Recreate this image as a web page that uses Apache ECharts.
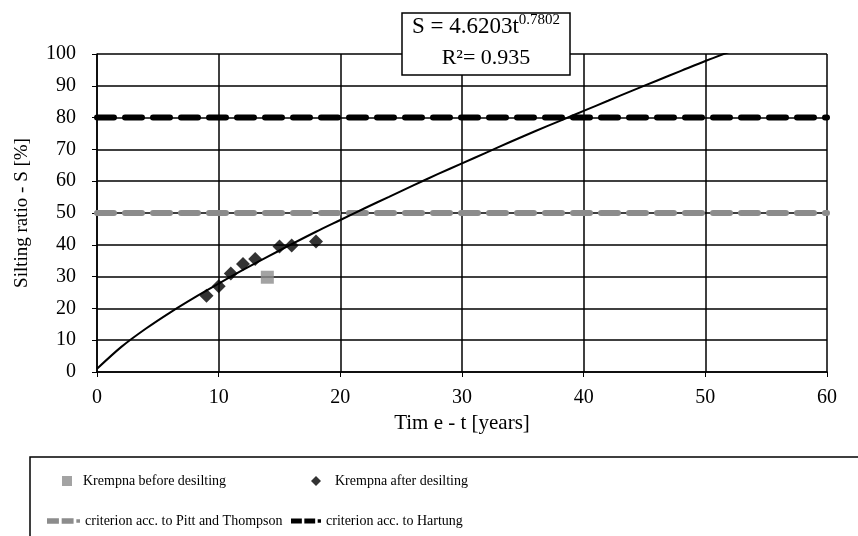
<!DOCTYPE html>
<html>
<head>
<meta charset="utf-8">
<script src="https://cdn.jsdelivr.net/npm/echarts@6/dist/echarts.min.js"></script>
<style>
  body { margin: 0; background: #fff; }
  #main { width: 858px; height: 536px; }
</style>
</head>
<body>
<div id="main"></div>
<script>
// Krempna after desilting (time in years, silting ratio %)
const afterT = [9, 10, 11, 12, 13, 15, 16, 18]
const afterS = [24, 27, 31, 34, 35.5, 39.5, 39.8, 41]
// Krempna before desilting
const beforeT = [14]
const beforeS = [29.8]
// trend curve
const trendT = [0, 2, 4, 6, 8, 10, 12, 14, 16, 18, 20, 22, 24, 26, 28, 30, 32, 34, 36, 38, 40, 42, 44, 46, 48, 50, 52]
const trendS = [1, 7.9, 13.6, 18.7, 23.4, 27.8, 32.1, 36.2, 40.2, 44.1, 47.8, 51.5, 55.1, 58.7, 62.2, 65.6, 69, 72.4, 75.7, 78.9, 82.1, 85.3, 88.5, 91.6, 94.7, 97.8, 100.7]
// criteria lines
const pittLevel = 50
const hartungLevel = 80
const xRange = [0, 60]

const serif = 'Liberation Serif'
const zip = (a, b) => a.map((v, i) => [v, b[i]])
// dash dash dot icon used in the legend for the criteria
const dashIcon = 'path://M0,0H13V6H0Z M16,0H29V6H16Z M32,1H36V5H32Z'

let myChart = echarts.init(document.getElementById('main'))
let legendText = { fontFamily: serif, fontSize: 14, color: '#000' }
let option = {
  animation: false,
  backgroundColor: '#fff',
  textStyle: { fontFamily: serif, color: '#000' },
  grid: { left: 97, right: 31, top: 54, bottom: 164 },
  xAxis: {
    type: 'value',
    min: 0, max: 60, interval: 10,
    name: 'Tim e - t [years]',
    nameLocation: 'middle',
    nameGap: 41,
    nameTextStyle: { fontFamily: serif, fontSize: 21, color: '#000', verticalAlign: 'top' },
    axisLine: { lineStyle: { color: '#000', width: 1.5 } },
    axisTick: { show: true, length: 5, lineStyle: { color: '#000' } },
    axisLabel: { fontFamily: serif, fontSize: 20, color: '#000', margin: 16 },
    splitLine: { show: true, lineStyle: { color: '#000', width: 1.5 } }
  },
  yAxis: {
    type: 'value',
    min: 0, max: 100, interval: 10,
    name: 'Silting ratio - S [%]',
    nameLocation: 'middle',
    nameGap: 65,
    nameTextStyle: { fontFamily: serif, fontSize: 19, color: '#000' },
    axisLine: { show: true, lineStyle: { color: '#000', width: 1.5 } },
    axisTick: { show: true, length: 5, lineStyle: { color: '#000' } },
    axisLabel: { fontFamily: serif, fontSize: 20, color: '#000', margin: 21 },
    splitLine: { show: true, lineStyle: { color: '#000', width: 1.5 } }
  },
  legend: [
    {
      data: ['Krempna before desilting'],
      left: 57, top: 469, itemWidth: 10, itemHeight: 10,
      textStyle: Object.assign({ padding: [0, 0, 0, 6] }, legendText)
    },
    {
      data: ['Krempna after desilting'],
      left: 306, top: 469, itemWidth: 10, itemHeight: 10,
      textStyle: Object.assign({ padding: [0, 0, 0, 9] }, legendText)
    },
    {
      data: [{ name: 'criterion acc. to Pitt and Thompson', icon: dashIcon }],
      left: 42, top: 509, itemWidth: 33, itemHeight: 6,
      textStyle: legendText
    },
    {
      data: [{ name: 'criterion acc. to Hartung', icon: dashIcon }],
      left: 286, top: 509, itemWidth: 30, itemHeight: 6,
      textStyle: legendText
    }
  ],
  series: [
    {
      name: 'criterion acc. to Pitt and Thompson',
      type: 'line',
      symbol: 'none',
      data: zip(xRange, [pittLevel, pittLevel]),
      lineStyle: { color: '#8c8c8c', width: 6, type: [17, 11], cap: 'round' },
      itemStyle: { color: '#8c8c8c' },
      z: 3
    },
    {
      name: 'criterion acc. to Hartung',
      type: 'line',
      symbol: 'none',
      data: zip(xRange, [hartungLevel, hartungLevel]),
      lineStyle: { color: '#000', width: 6, type: [17, 11], cap: 'round' },
      itemStyle: { color: '#000' },
      z: 3
    },
    {
      name: 'trend',
      type: 'line',
      smooth: 0.3,
      symbol: 'none',
      data: zip(trendT, trendS),
      lineStyle: { color: '#000', width: 2 },
      z: 4
    },
    {
      name: 'Krempna before desilting',
      type: 'scatter',
      symbol: 'rect',
      symbolSize: 13,
      data: zip(beforeT, beforeS),
      itemStyle: { color: '#8c8c8c' },
      z: 5
    },
    {
      name: 'Krempna after desilting',
      type: 'scatter',
      symbol: 'diamond',
      symbolSize: 14,
      data: zip(afterT, afterS),
      itemStyle: { color: '#000' },
      z: 5
    }
  ],
  graphic: [
    {
      type: 'rect',
      shape: { x: 30, y: 457, width: 840, height: 90 },
      style: { fill: 'none', stroke: '#000', lineWidth: 1.5 }
    },
    {
      type: 'rect',
      shape: { x: 402, y: 13, width: 168, height: 62 },
      style: { fill: '#fff', stroke: '#000', lineWidth: 1.5 },
      z: 10
    },
    {
      type: 'text',
      x: 486, y: 27,
      z: 11,
      style: {
        text: '{m|S = 4.6203t}{s|0.7802}',
        align: 'center',
        verticalAlign: 'middle',
        rich: {
          m: { fontSize: 23, fontFamily: serif, color: '#000' },
          s: { fontSize: 15, fontFamily: serif, color: '#000', padding: [0, 0, 14, 0] }
        }
      }
    },
    {
      type: 'text',
      x: 486, y: 58,
      z: 11,
      style: {
        text: 'R²= 0.935',
        align: 'center',
        verticalAlign: 'middle',
        fontSize: 22,
        fontFamily: serif,
        fill: '#000'
      }
    }
  ]
}
myChart.setOption(option)
</script>
</body>
</html>
